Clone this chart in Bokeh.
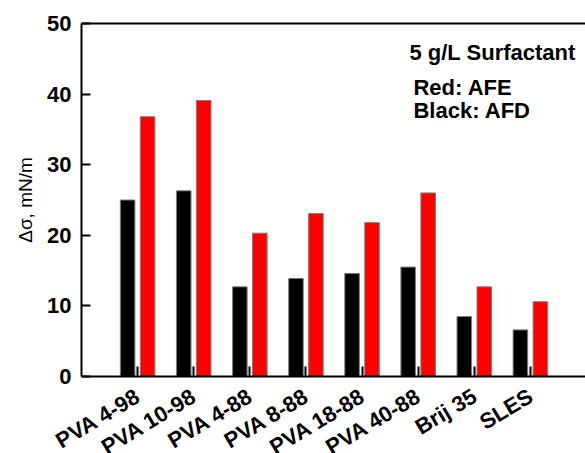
import numpy as np
from bokeh.plotting import figure
from bokeh.models import (ColumnDataSource, FixedTicker, LinearAxis, Label, Range1d)
from bokeh.embed import file_html
from bokeh.resources import INLINE

categories = ["PVA 4-98", "PVA 10-98", "PVA 4-88", "PVA 8-88",
              "PVA 18-88", "PVA 40-88", "Brij 35", "SLES"]
afd_black = [25.0, 26.3, 12.7, 13.9, 14.6, 15.5, 8.5, 6.6]
afe_red = [36.8, 39.1, 20.3, 23.1, 21.8, 26.0, 12.7, 10.6]
y_ticks = [0, 10, 20, 30, 40, 50]
y_max = 50
x_max = 9

FONT = "Liberation Sans"

# layout (screen pixels); the frame fills the canvas, axes sit at fixed places
W, H = 585, 453
TOP_Y = 23             # where y = 50 sits
AXIS_X = 81            # where x = 0 sits
AXIS_Y = 376           # where y = 0 sits
X_RIGHT = 586          # where x = 9 sits (just off the canvas)
px_y = (AXIS_Y - TOP_Y) / y_max
px_x = (X_RIGHT - AXIS_X) / x_max
y_end = y_max + TOP_Y / px_y
y_start = y_max - (H - TOP_Y) / px_y
x_start = -AXIS_X / px_x
x_end = (W - AXIS_X) / px_x

xpos = np.arange(1, len(categories) + 1)
src = ColumnDataSource(dict(
    x_afd=xpos - 0.178,
    x_afe=xpos + 0.178,
    afd=afd_black,
    afe=afe_red,
))

p = figure(width=W, height=H, output_backend="svg", toolbar_location=None,
           x_range=Range1d(x_start, x_end), y_range=Range1d(y_start, y_end),
           min_border_left=0, min_border_right=0, min_border_top=0,
           min_border_bottom=0)
p.background_fill_color = "white"
p.border_fill_color = "white"
p.outline_line_color = None
p.xgrid.visible = False
p.ygrid.visible = False

p.vbar(x="x_afd", top="afd", width=0.26, bottom=0, source=src,
       fill_color="#000000", line_color="#808080", line_width=1)
p.vbar(x="x_afe", top="afe", width=0.26, bottom=0, source=src,
       fill_color="#ff0000", line_color="#808080", line_width=1)

# x axis drawn at y = 0
xa = p.xaxis[0]
xa.fixed_location = 0
xa.bounds = (0, x_max)
xa.ticker = FixedTicker(ticks=list(xpos))
xa.major_label_overrides = {int(i): "" for i in xpos}
xa.major_label_text_font_size = "1px"
xa.major_label_standoff = 0
xa.major_tick_in = 10
xa.major_tick_out = 0
xa.major_tick_line_width = 2
xa.minor_tick_line_color = None
xa.axis_line_width = 2
xa.axis_line_color = "black"

for xi, cat in zip(xpos, categories):
    p.add_layout(Label(x=float(xi), y=0, text=cat,
                       angle=np.radians(31), text_align="right",
                       text_baseline="top", x_offset=-6, y_offset=-7,
                       text_font=FONT, text_font_style="bold",
                       text_font_size="22px", text_color="black"))

# y axis drawn at x = 0
ya = p.yaxis[0]
ya.fixed_location = 0
ya.bounds = (0, y_max)
ya.ticker = FixedTicker(ticks=y_ticks)
ya.major_label_text_font = FONT
ya.major_label_text_font_style = "bold"
ya.major_label_text_font_size = "22px"
ya.major_label_text_color = "black"
ya.major_label_standoff = 10
ya.major_tick_in = 9
ya.major_tick_out = 0
ya.major_tick_line_width = 2
ya.minor_tick_line_color = None
ya.axis_line_width = 2
ya.axis_line_color = "black"
ya.axis_label = "Δσ, mN/m"
ya.axis_label_text_font = FONT
ya.axis_label_text_font_style = "normal"
ya.axis_label_text_font_size = "19px"
ya.axis_label_text_color = "black"
ya.axis_label_standoff = 8

# top frame line at y = 50
top = LinearAxis(ticker=FixedTicker(ticks=[]), major_tick_line_color=None,
                 minor_tick_line_color=None, bounds=(0, x_max),
                 fixed_location=y_max,
                 axis_line_width=2, axis_line_color="black")
p.add_layout(top, "above")

for txt, x, y in [("5 g/L Surfactant", 5.845, 45.9),
                  ("Red: AFE", 5.916, 41.0),
                  ("Black: AFD", 5.916, 37.7)]:
    p.add_layout(Label(x=x, y=y, text=txt, text_font=FONT, text_font_style="bold",
                       text_font_size="22px", text_color="black",
                       text_baseline="alphabetic", text_align="left"))

open("out.html", "w").write(file_html(p, INLINE))
